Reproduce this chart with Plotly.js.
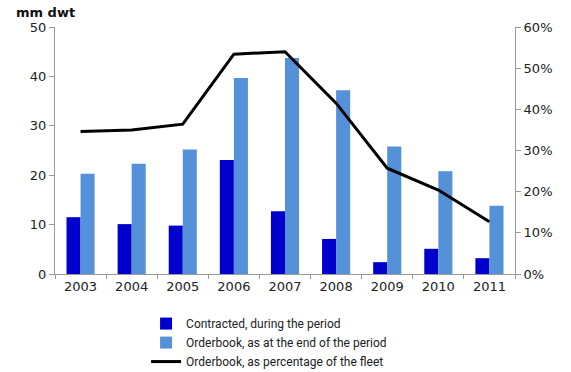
<!DOCTYPE html>
<html><head><meta charset="utf-8">
<script src="https://cdn.plot.ly/plotly-3.0.1.min.js"></script>
<style>html,body{margin:0;padding:0;background:#fff;}</style>
</head><body>
<div id="chart" style="width:571px;height:372px;"></div>
<script>
const years = ['2003','2004','2005','2006','2007','2008','2009','2010','2011'];
const contracted = [11.5, 10.1, 9.8, 23.1, 12.7, 7.1, 2.4, 5.1, 3.2];
const orderbook = [20.3, 22.3, 25.2, 39.7, 43.7, 37.2, 25.8, 20.8, 13.8];
const orderbookPct = [0.346, 0.350, 0.364, 0.534, 0.540, 0.415, 0.257, 0.204, 0.127];

const tickFont = {family: 'DejaVu Sans, Verdana, sans-serif', size: 13, color: '#222'};
const data = [
  {type: 'bar', x: years, y: contracted, name: 'Contracted, during the period',
   marker: {color: '#0000CC'}},
  {type: 'bar', x: years, y: orderbook, name: 'Orderbook, as at the end of the period',
   marker: {color: '#5591D9'}},
  {type: 'scatter', mode: 'lines', x: years, y: orderbookPct, yaxis: 'y2',
   name: 'Orderbook, as percentage of the fleet',
   line: {color: '#000', width: 3}}
];
const layout = {
  width: 571, height: 372,
  margin: {l: 55, r: 56, t: 27, b: 98, autoexpand: false},
  paper_bgcolor: '#fff', plot_bgcolor: '#fff',
  barmode: 'group', bargap: 0.45, bargroupgap: 0,
  showlegend: true,
  legend: {orientation: 'v', x: 0.198, xanchor: 'left', y: -0.142, yanchor: 'top',
           font: {family: 'Liberation Sans Narrow, Arial Narrow, Roboto, sans-serif', size: 12, color: '#222'},
           tracegroupgap: 0, itemwidth: 30, traceorder: 'normal', bgcolor: 'rgba(0,0,0,0)'},
  xaxis: {type: 'category', showgrid: false, showline: true, linecolor: '#999', linewidth: 1,
          ticks: 'outside', tickson: 'boundaries', ticklen: 4, tickcolor: '#999',
          tickfont: tickFont, range: [-0.5, 8.5], zeroline: false},
  yaxis: {range: [0, 50], dtick: 10, showgrid: false, showline: true, linecolor: '#999',
          ticks: 'outside', ticklen: 5, tickcolor: '#999', tickfont: tickFont, zeroline: false},
  yaxis2: {overlaying: 'y', side: 'right', range: [0, 0.6], dtick: 0.1, tickformat: '.0%',
           showgrid: false, showline: true, linecolor: '#999', ticks: 'outside', ticklen: 5,
           tickcolor: '#999', tickfont: tickFont, zeroline: false},
  annotations: [{text: '<b>mm dwt</b>', xref: 'paper', yref: 'paper', x: -0.09, y: 1.0,
                 xanchor: 'left', yanchor: 'bottom', showarrow: false, yshift: 5,
                 font: {family: 'DejaVu Sans, Verdana, sans-serif', size: 13, color: '#111'}}]
};
Plotly.newPlot('chart', data, layout, {displayModeBar: false, staticPlot: true});
</script>
</body></html>
